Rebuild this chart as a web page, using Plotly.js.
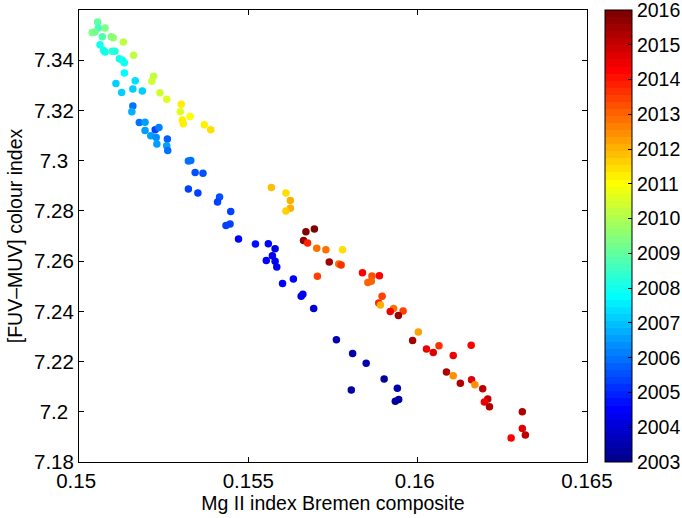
<!DOCTYPE html>
<html>
<head>
<meta charset="utf-8">
<script src="https://cdn.plot.ly/plotly-3.0.1.min.js"></script>
<style>html,body{margin:0;padding:0;background:#fff;}#chart{width:682px;height:518px;}</style>
</head>
<body>
<div id="chart"></div>
<script>
// Mg II index (Bremen composite)
const mgII = [
0.15055,0.15077,0.15057,0.15039,0.15047,0.15069,0.15095,0.15101,0.15131,0.15062,
0.15072,0.15077,0.15098,0.15106,0.15119,0.15128,0.15134,0.15161,0.15134,0.15220,
0.15215,0.15109,0.15166,0.15159,0.15126,0.15187,0.15239,0.15259,0.15302,0.15299,
0.15159,0.15156,0.15328,0.15305,0.15308,0.15370,0.15389,0.15178,0.15195,0.15195,
0.15225,0.15236,0.15212,0.15228,0.15261,0.15230,0.15259,0.15262,0.15323,0.15330,
0.15343,0.15366,0.15323,0.15351,0.15415,0.15409,0.15448,0.15446,0.15434,0.15471,
0.15521,0.15559,0.15579,0.15571,0.15553,0.15579,0.15584,0.15601,0.15633,0.15656,
0.15661,0.15693,0.15760,0.15808,0.15848,0.15901,0.15940,0.15804,0.15934,0.15944,
0.15568,0.15611,0.15624,0.15624,0.15611,0.15670,0.15695,0.15663,0.15675,0.15702,
0.15729,0.15778,0.15739,0.15767,0.15774,0.15704,0.15837,0.15865,0.15887,0.15853,
0.15863,0.15895,0.15885,0.15890,0.15929,0.15919,0.15957,0.15943,0.16002,0.15985,
0.16026,0.16046,0.16063,0.16105,0.16085,0.16105,0.16126,0.16158,0.16159,0.16169,
0.16192,0.16207,0.16197,0.16212,0.16309,0.16309,0.16318,0.16276
];
// [FUV-MUV] colour index
const colourIndex = [
7.3552,7.3528,7.3528,7.3510,7.3512,7.3493,7.3493,7.3489,7.3473,7.3462,
7.3440,7.3433,7.3436,7.3436,7.3406,7.3400,7.3390,7.3420,7.3349,7.3336,
7.3316,7.3307,7.3318,7.3285,7.3271,7.3277,7.3270,7.3245,7.3225,7.3195,
7.3218,7.3195,7.3176,7.3162,7.3147,7.3143,7.3123,7.3152,7.3153,7.3120,
7.3123,7.3132,7.3099,7.3092,7.3086,7.3066,7.3059,7.3040,7.2999,7.3001,
7.2953,7.2950,7.2887,7.2871,7.2855,7.2835,7.2798,7.2748,7.2742,7.2688,
7.2668,7.2669,7.2649,7.2621,7.2602,7.2599,7.2577,7.2511,7.2529,7.2460,
7.2468,7.2411,7.2287,7.2232,7.2193,7.2131,7.2094,7.2087,7.2042,7.2049,
7.2893,7.2871,7.2841,7.2811,7.2800,7.2717,7.2728,7.2682,7.2672,7.2651,
7.2645,7.2645,7.2596,7.2588,7.2585,7.2540,7.2554,7.2541,7.2542,7.2515,
7.2520,7.2460,7.2433,7.2425,7.2411,7.2399,7.2401,7.2383,7.2318,7.2284,
7.2250,7.2236,7.2263,7.2224,7.2158,7.2143,7.2114,7.2265,7.2128,7.2108,
7.2092,7.2051,7.2039,7.2020,7.2000,7.1933,7.1908,7.1896
];
// Time (decimal year)
const years = [
2009.0,2009.3,2008.6,2009.4,2009.2,2008.7,2009.4,2009.6,2010.2,2008.0,
2008.1,2008.0,2008.3,2008.2,2008.0,2007.9,2007.9,2010.3,2007.7,2010.3,
2010.5,2007.1,2007.4,2007.2,2007.1,2007.2,2010.5,2010.6,2011.2,2010.6,
2006.0,2006.8,2011.0,2011.3,2011.3,2011.2,2011.5,2006.0,2006.6,2006.6,
2005.4,2006.2,2006.5,2006.4,2005.8,2006.5,2006.6,2005.9,2006.0,2006.0,
2005.5,2005.5,2005.3,2005.3,2005.5,2005.4,2005.3,2005.3,2005.3,2004.6,
2004.8,2004.5,2004.2,2004.4,2004.5,2004.4,2004.3,2004.6,2004.6,2004.3,
2004.4,2004.0,2003.5,2003.5,2003.5,2003.4,2003.5,2003.4,2003.3,2003.3,
2011.8,2011.4,2012.0,2012.0,2011.6,2015.8,2015.8,2015.7,2013.8,2012.8,
2012.9,2011.5,2015.5,2012.9,2013.7,2013.5,2014.2,2013.2,2014.3,2013.1,
2013.0,2013.4,2013.8,2012.0,2012.8,2014.4,2013.4,2015.5,2012.2,2015.4,
2014.5,2014.7,2013.7,2014.5,2015.3,2012.4,2015.3,2014.2,2014.7,2012.4,
2015.0,2015.0,2014.5,2015.2,2015.2,2014.6,2015.1,2014.3
];
const xTicks = [0.15, 0.155, 0.16, 0.165];
const xTickText = ['0.15\u00a0', '0.155', '0.16\u00a0', '0.165'];
const yTicks = [7.18, 7.2, 7.22, 7.24, 7.26, 7.28, 7.3, 7.32, 7.34, 7.36];
const yTickText = ['7.18', '7.2\u00a0', '7.22', '7.24', '7.26', '7.28', '7.3\u00a0', '7.32', '7.34', '7.36'];
const yearTicks = [2003,2004,2005,2006,2007,2008,2009,2010,2011,2012,2013,2014,2015,2016];

// MATLAB-style jet(64) stepped colorscale
function jet(t){
  const c = v => Math.max(0, Math.min(1, v));
  const r = c(1.5 - Math.abs(4*t - 3));
  const g = c(1.5 - Math.abs(4*t - 2));
  const b = c(1.5 - Math.abs(4*t - 1));
  return 'rgb(' + Math.round(r*255) + ',' + Math.round(g*255) + ',' + Math.round(b*255) + ')';
}
const N = 64;
const jetScale = [];
for (let i = 0; i < N; i++) {
  const col = jet((i + 1) / N);
  jetScale.push([i / N, col]);
  jetScale.push([(i + 1) / N, col]);
}

const FONT = '"Liberation Sans", Arial, Helvetica, sans-serif';
const FS_TICK = 20.5;
const FS_CBAR = 19.5;
const FS_TITLE = 19.5;

const trace = {
  type: 'scatter',
  mode: 'markers',
  x: mgII,
  y: colourIndex,
  marker: {
    size: 7.5,
    color: years,
    colorscale: jetScale,
    cmin: 2003,
    cmax: 2016,
    line: {width: 0},
    colorbar: {
      x: 1.036, xanchor: 'left', xref: 'paper',
      y: 0.5, yanchor: 'middle', len: 1, lenmode: 'fraction',
      thickness: 27, thicknessmode: 'pixels',
      outlinewidth: 1, outlinecolor: '#000',
      tickmode: 'array',
      tickvals: yearTicks,
      ticktext: yearTicks.map(String),
      ticklabeloverflow: 'allow',
      ticks: 'inside', ticklen: 4, tickcolor: '#000',
      tickfont: {family: FONT, size: FS_CBAR, color: '#000'},
      xpad: 0, ypad: 0
    }
  },
  hoverinfo: 'x+y'
};

const layout = {
  width: 682, height: 518,
  margin: {l: 79, r: 95, t: 10, b: 56, autoexpand: false},
  paper_bgcolor: '#fff', plot_bgcolor: '#fff',
  font: {family: FONT, size: FS_TICK, color: '#000'},
  showlegend: false,
  xaxis: {
    range: [0.15, 0.165], tickvals: xTicks, ticktext: xTickText,
    ticks: 'inside', ticklen: 5, tickcolor: '#000',
    showline: true, linecolor: '#000', linewidth: 1, mirror: 'ticks',
    showgrid: false, zeroline: false, automargin: false,
    tickfont: {family: FONT, size: FS_TICK, color: '#000'},
    title: {text: 'Mg II index Bremen composite', font: {family: FONT, size: FS_TITLE, color: '#000'}, standoff: 0}
  },
  yaxis: {
    range: [7.18, 7.36], tickvals: yTicks, ticktext: yTickText,
    ticks: 'inside', ticklen: 5, tickcolor: '#000',
    showline: true, linecolor: '#000', linewidth: 1, mirror: 'ticks',
    showgrid: false, zeroline: false, automargin: false,
    tickfont: {family: FONT, size: FS_TICK, color: '#000'},
    title: {text: '[FUV–MUV] colour index', font: {family: FONT, size: FS_TITLE, color: '#000'}, standoff: 6}
  }
};

Plotly.newPlot('chart', [trace], layout, {displayModeBar: false, staticPlot: true});
</script>
</body>
</html>
